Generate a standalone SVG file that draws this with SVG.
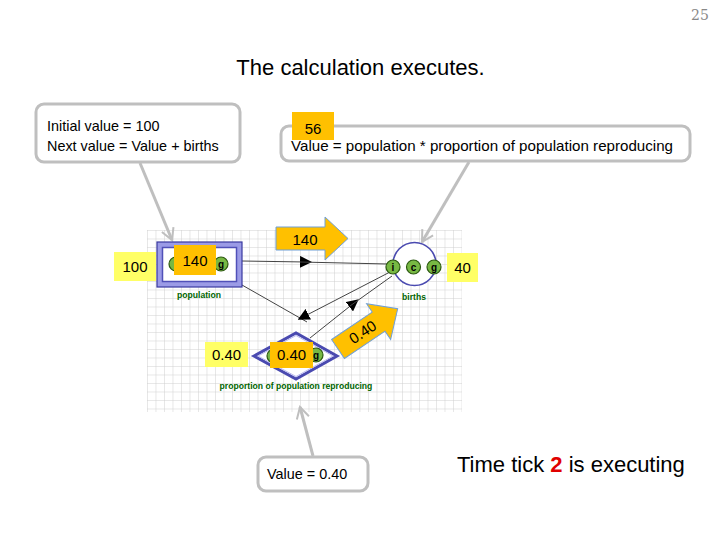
<svg xmlns="http://www.w3.org/2000/svg" width="720" height="540" viewBox="0 0 720 540">
<defs>
<pattern id="grid" x="147" y="230" width="8.5" height="8.5" patternUnits="userSpaceOnUse">
<path d="M0,0 H8.5 M0,0 V8.5" stroke="#cfcfcf" stroke-width="1" fill="none"/>
</pattern>
<marker id="open" viewBox="0 0 12 12" refX="10" refY="6" markerWidth="5" markerHeight="5" orient="auto" markerUnits="strokeWidth">
<path d="M1,1 L10,6 L1,11" fill="none" stroke="#bfbfbf" stroke-width="1.6"/>
</marker>
<marker id="tri" viewBox="0 0 10 10" refX="5" refY="5" markerWidth="12" markerHeight="12" orient="auto" markerUnits="userSpaceOnUse">
<path d="M0,0 L10,5 L0,10 Z" fill="#000"/>
</marker>
<path id="bigarrow" d="M0,-11.5 L49,-11.5 L49,-21.5 L72,0 L49,21.5 L49,11.5 L0,11.5 Z"/>
</defs>
<style>
.t{font-family:"Liberation Sans",Arial,sans-serif;fill:#000}
.callout{fill:#fff;stroke:#bfbfbf;stroke-width:3}
.ptr{stroke:#bfbfbf;stroke-width:3;fill:none;marker-end:url(#open)}
.link{stroke:#444;stroke-width:1;fill:none}
.yel{fill:#ffff66}
.org{fill:#ffc000}
.arr{fill:#ffc000;stroke:#6f9fd8;stroke-width:1}
.gc{fill:#77b843;stroke:#2d5a12;stroke-width:1.2}
.gl{font-family:"Liberation Sans",Arial,sans-serif;font-weight:bold;font-size:10px;fill:#000;text-anchor:middle}
.lbl{font-family:"Liberation Sans",Arial,sans-serif;font-weight:bold;font-size:8.6px;fill:#006400;text-anchor:middle}
.v{font-family:"Liberation Sans",Arial,sans-serif;font-size:15px;fill:#000;text-anchor:middle}
</style>
<rect width="720" height="540" fill="#fff"/>
<text x="700" y="20" font-family="DejaVu Serif,serif" font-size="14" fill="#888" text-anchor="middle">25</text>
<text class="t" x="360.5" y="75" font-size="22" text-anchor="middle">The calculation executes.</text>

<rect x="147" y="230" width="315" height="182" fill="url(#grid)"/>

<g id="callout-population">
<rect class="callout" x="36" y="104" width="204" height="58" rx="8"/>
<text class="t" x="47" y="131" font-size="14.4">Initial value = 100</text>
<text class="t" x="47" y="151" font-size="14.4">Next value = Value + births</text>
<line class="ptr" x1="140" y1="163" x2="172" y2="240"/>
</g>

<g id="callout-births">
<rect class="callout" x="281" y="126" width="409" height="35" rx="8"/>
<text class="t" x="291" y="151" font-size="15" textLength="382" lengthAdjust="spacingAndGlyphs">Value = population * proportion of population reproducing</text>
<rect class="org" x="292" y="112" width="42" height="28"/>
<text class="v" x="313" y="134" font-size="16">56</text>
<line class="ptr" x1="469" y1="162" x2="422" y2="242"/>
</g>

<g id="callout-proportion">
<rect class="callout" x="258" y="457" width="110" height="34" rx="8"/>
<text class="t" x="267" y="479" font-size="14.4">Value = 0.40</text>
<line class="ptr" x1="313" y1="456" x2="300" y2="407"/>
</g>

<g id="connectors">
<line class="link" x1="242" y1="261" x2="306" y2="262" marker-end="url(#tri)"/>
<line class="link" x1="300" y1="262" x2="388" y2="264"/>
<line class="link" x1="242" y1="285" x2="307" y2="322"/>
<line class="link" x1="390" y1="272" x2="303" y2="317" marker-end="url(#tri)"/>
<line class="link" x1="310" y1="338" x2="354" y2="303" marker-end="url(#tri)"/>
<line class="link" x1="350" y1="306" x2="392" y2="276"/>
</g>

<g id="population">
<rect x="157" y="242" width="85" height="45" fill="#9b9be6" stroke="#3a3aa0" stroke-width="1.2"/>
<rect x="162.5" y="247.5" width="74" height="34" fill="#fff" stroke="#5050b8" stroke-width="1.5"/>
<circle class="gc" cx="176" cy="264" r="7"/>
<circle class="gc" cx="221" cy="264" r="7"/>
<text class="gl" x="221" y="267.5">g</text>
<text class="lbl" x="199" y="298">population</text>
<rect class="yel" x="114" y="252" width="42" height="29"/>
<text class="v" x="135" y="272">100</text>
<rect class="org" x="174" y="245" width="42" height="30"/>
<text class="v" x="195" y="266">140</text>
</g>

<g id="births">
<circle cx="414.5" cy="264" r="21.5" fill="#fff" stroke="#4a4ab0" stroke-width="1.6"/>
<circle class="gc" cx="393" cy="267" r="7"/>
<text class="gl" x="393" y="270.5">i</text>
<circle class="gc" cx="413.5" cy="267" r="7"/>
<text class="gl" x="413.5" y="270.5">c</text>
<circle class="gc" cx="434" cy="267" r="7"/>
<text class="gl" x="434" y="270.5">g</text>
<text class="lbl" x="414" y="300">births</text>
<rect class="yel" x="447" y="253" width="31" height="29"/>
<text class="v" x="462.5" y="273">40</text>
</g>

<g id="proportion">
<path d="M254,356 L296,333 L337,356 L296,379 Z" fill="#fff" stroke="#4a4ab0" stroke-width="3"/>
<path d="M258,356 L296,335.5 L333,356 L296,376.5 Z" fill="#fff" stroke="#b8b8f0" stroke-width="1"/>
<circle class="gc" cx="274" cy="356" r="7"/>
<circle class="gc" cx="316" cy="355" r="7"/>
<text class="gl" x="316" y="358.5">g</text>
<text class="lbl" x="296" y="389">proportion of population reproducing</text>
<rect class="yel" x="205" y="342" width="43" height="25"/>
<text class="v" x="226.5" y="360">0.40</text>
<rect class="org" x="270" y="342" width="43" height="26"/>
<text class="v" x="291.5" y="360">0.40</text>
</g>

<g id="flow-140">
<use href="#bigarrow" class="arr" transform="translate(276,238.5)"/>
<text class="v" x="305" y="245">140</text>
</g>

<g id="flow-040">
<g transform="translate(338,349) rotate(-34)">
<use href="#bigarrow" class="arr"/>
<text class="v" x="30" y="5">0.40</text>
</g>
</g>

<text class="t" x="457" y="472" font-size="22">Time tick <tspan fill="#e00000" font-weight="bold">2</tspan> is executing</text>
</svg>
